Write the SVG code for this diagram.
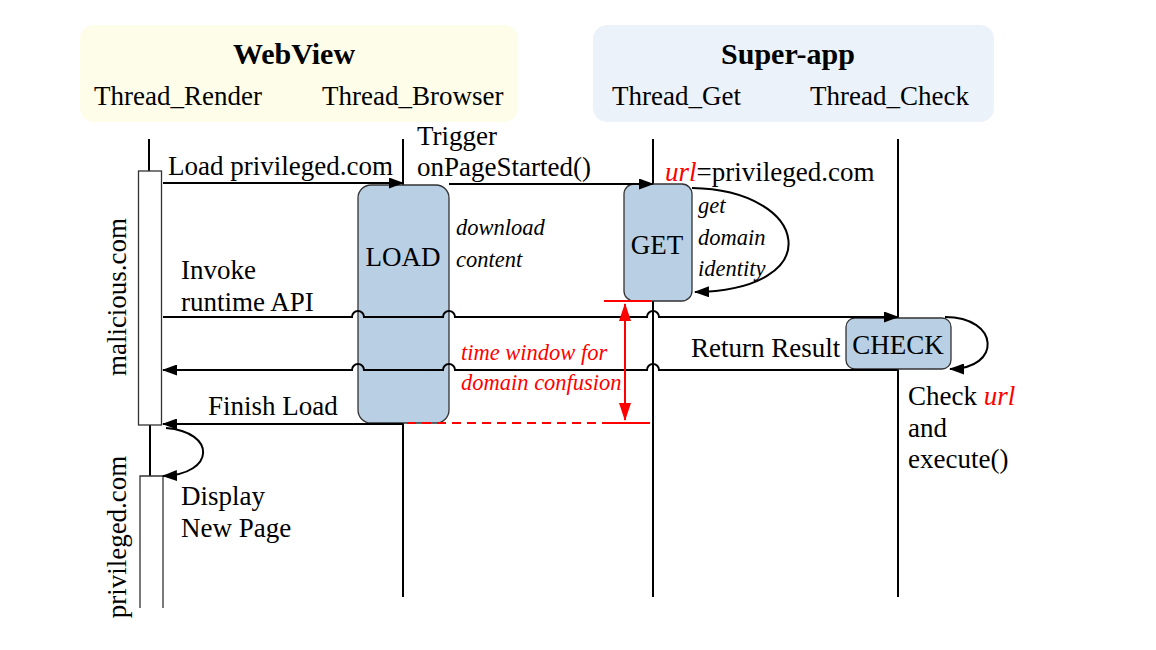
<svg xmlns="http://www.w3.org/2000/svg" width="1156" height="650" viewBox="0 0 1156 650">
<defs>
<marker id="ah" markerWidth="15" markerHeight="11" refX="14" refY="5.5" orient="auto" markerUnits="userSpaceOnUse"><path d="M0,0 L15,5.5 L0,11 z" fill="#000"/></marker>
<marker id="ahr" markerWidth="18" markerHeight="12" refX="17" refY="6" orient="auto-start-reverse" markerUnits="userSpaceOnUse" viewBox="0 0 18 12"><path d="M0,0 L18,6 L0,12 z" fill="#f00"/></marker>
</defs>
<style>
text{font-family:"Liberation Serif","Times New Roman",serif;fill:#000}
.t{font-size:27px}
.h{font-size:30px;font-weight:bold}
.i{font-size:22.5px;font-style:italic}
.red{fill:#f00}
.life{stroke:#000;stroke-width:2;fill:none}
.box{fill:#b9cfe4;stroke:#333;stroke-width:1.3}
.conn{stroke:#000;stroke-width:2;fill:none}
.rl{stroke:#f00;stroke-width:2;fill:none}
</style>
<rect width="1156" height="650" fill="#fff"/>
<g id="hdr-webview">
<rect x="80" y="25" width="438" height="97" rx="14" fill="#fefde9"/>
<text class="h" x="294" y="64" text-anchor="middle">WebView</text>
<text class="t" x="94" y="105">Thread_Render</text>
<text class="t" x="322" y="105">Thread_Browser</text>
</g>
<g id="hdr-superapp">
<rect x="593" y="25" width="401" height="97" rx="14" fill="#ecf2f9"/>
<text class="h" x="788" y="64" text-anchor="middle">Super-app</text>
<text class="t" x="612" y="105">Thread_Get</text>
<text class="t" x="810" y="105">Thread_Check</text>
</g>
<g id="lifelines">
<line class="life" x1="149" y1="139" x2="149" y2="171"/>
<line class="life" x1="150" y1="425" x2="150" y2="476"/>
<line class="life" x1="403" y1="139" x2="403" y2="597"/>
<line class="life" x1="653" y1="139" x2="653" y2="597"/>
<line class="life" x1="898" y1="139" x2="898" y2="597"/>
</g>
<g id="render-malicious">
<rect x="138.5" y="171" width="23" height="254" fill="#fff" stroke="#333" stroke-width="1.3"/>
<text class="t" transform="translate(126,297) rotate(-90)" text-anchor="middle">malicious.com</text>
</g>
<g id="render-privileged">
<path d="M140,608 V476 H163 V608" fill="none" stroke="#333" stroke-width="1.3"/>
<text class="t" transform="translate(126,537) rotate(-90)" text-anchor="middle">privileged.com</text>
</g>
<g id="load">
<rect class="box" x="358" y="185" width="91" height="238" rx="13"/>
<text class="t" x="403" y="266" text-anchor="middle">LOAD</text>
</g>
<g id="get">
<rect class="box" x="624" y="184" width="68" height="117" rx="10"/>
<text class="t" x="657" y="254" text-anchor="middle">GET</text>
</g>
<g id="check">
<rect class="box" x="846" y="318" width="105" height="51" rx="9"/>
<text class="t" x="898" y="354" text-anchor="middle">CHECK</text>
</g>
<g id="connectors">
<line class="conn" x1="163" y1="183" x2="403" y2="183" marker-end="url(#ah)"/>
<line class="conn" x1="449" y1="184" x2="653" y2="184" marker-end="url(#ah)"/>
<path class="conn" d="M692,188 C810,190 830,290 695,292" marker-end="url(#ah)"/>
<path class="conn" d="M163,317 H352 A6,6 0 0 1 364,317 H443 A6,6 0 0 1 455,317 H647 A6,6 0 0 1 659,317 H898" marker-end="url(#ah)"/>
<path class="conn" d="M945,317 C1000,317 1002,369 950,369" marker-end="url(#ah)"/>
<path class="conn" d="M898,370 H659 A6,6 0 0 0 647,370 H455 A6,6 0 0 0 443,370 H364 A6,6 0 0 0 352,370 H163" marker-end="url(#ah)"/>
<line class="conn" x1="403" y1="424" x2="163" y2="424" marker-end="url(#ah)"/>
<path class="conn" d="M166,428 C216,432 216,474 163,476" marker-end="url(#ah)"/>
</g>
<g id="time-window">
<line class="rl" x1="604" y1="301" x2="651" y2="301"/>
<line class="rl" x1="407" y1="423" x2="603" y2="423" stroke-dasharray="9,6"/>
<line class="rl" x1="603" y1="423" x2="650" y2="423"/>
<line class="rl" x1="625" y1="304" x2="625" y2="420" marker-start="url(#ahr)" marker-end="url(#ahr)"/>
<text class="i red" x="461" y="360">time window for</text>
<text class="i red" x="461" y="390">domain confusion</text>
</g>
<g id="labels">
<text class="t" x="168" y="175">Load privileged.com</text>
<text class="t" x="417" y="145">Trigger</text>
<text class="t" x="417" y="176">onPageStarted()</text>
<text class="t" x="665" y="181"><tspan class="red" font-style="italic">url</tspan>=privileged.com</text>
<text class="i" x="698" y="213">get</text>
<text class="i" x="698" y="245">domain</text>
<text class="i" x="698" y="276">identity</text>
<text class="i" x="456" y="235">download</text>
<text class="i" x="456" y="267">content</text>
<text class="t" x="181" y="279">Invoke</text>
<text class="t" x="181" y="311">runtime API</text>
<text class="t" x="691" y="357">Return Result</text>
<text class="t" x="908" y="405">Check <tspan class="red" font-style="italic">url</tspan></text>
<text class="t" x="908" y="437">and</text>
<text class="t" x="908" y="468">execute()</text>
<text class="t" x="208" y="415">Finish Load</text>
<text class="t" x="181" y="505">Display</text>
<text class="t" x="181" y="537">New Page</text>
</g>
</svg>
